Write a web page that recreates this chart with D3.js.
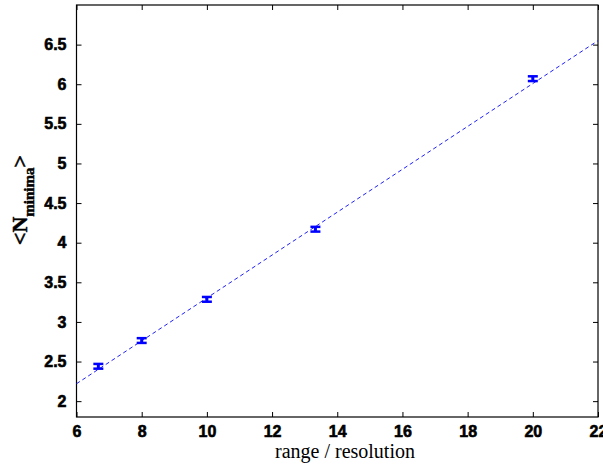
<!DOCTYPE html>
<meta charset="utf-8">
<script src="https://d3js.org/d3.v7.min.js"></script>
<style>
  body { margin: 0; background: #fff; }
</style>
<div id="my_dataviz"></div>
<script>
// measured points with error bars
var xs = [6.67, 8, 10, 13.33, 20];
var ys = [2.44, 2.765, 3.285, 4.17, 6.07];
var errs = [0.03, 0.03, 0.03, 0.03, 0.03];
// fitted line end points
var fitX = [6, 22];
var fitY = [2.22, 6.55];
var xTicks = [6, 8, 10, 12, 14, 16, 18, 20, 22];
var yTicks = [2, 2.5, 3, 3.5, 4, 4.5, 5, 5.5, 6, 6.5];

var W = 603, H = 468;
var margin = {top: 5, right: 5, bottom: 51, left: 76.5},
    width = W - margin.left - margin.right,
    height = H - margin.top - margin.bottom;

var root = d3.select("#my_dataviz")
  .append("svg")
    .attr("width", W)
    .attr("height", H);
var svg = root.append("g")
    .attr("transform", "translate(" + margin.left + "," + margin.top + ")");

var x = d3.scaleLinear().domain([6, 22]).range([0, width]);
var y = d3.scaleLinear().domain([1.8, 7]).range([height, 0]);

// axes with inward ticks
function styleAxis(g) {
  g.select(".domain").remove();
  g.selectAll(".tick line").attr("stroke", "#000");
  g.selectAll(".tick text")
    .style("font-family", "'Liberation Sans', Arial, sans-serif")
    .style("font-weight", "bold")
    .style("font-size", "16px")
    .attr("fill", "#000")
    .attr("stroke", "#000")
    .attr("stroke-width", 0.6);
}
svg.append("g")
  .attr("transform", "translate(0," + height + ")")
  .call(d3.axisBottom(x).tickValues(xTicks).tickSizeInner(-5).tickSizeOuter(0).tickPadding(9).tickFormat(d3.format("d")))
  .call(styleAxis);
svg.append("g")
  .call(d3.axisTop(x).tickValues(xTicks).tickSizeInner(-5).tickSizeOuter(0).tickFormat(""))
  .call(styleAxis);
svg.append("g")
  .call(d3.axisLeft(y).tickValues(yTicks).tickSizeInner(-5).tickSizeOuter(0).tickPadding(10).tickFormat(function(d) { return d3.format("")(d); }))
  .call(styleAxis);
svg.append("g")
  .attr("transform", "translate(" + width + ",0)")
  .call(d3.axisRight(y).tickValues(yTicks).tickSizeInner(-5).tickSizeOuter(0).tickFormat(""))
  .call(styleAxis);

svg.append("rect")
  .attr("width", width).attr("height", height)
  .attr("fill", "none").attr("stroke", "#000").attr("stroke-width", 1.2);

// fitted dashed line
svg.append("line")
  .attr("x1", x(fitX[0])).attr("y1", y(fitY[0]))
  .attr("x2", x(fitX[1])).attr("y2", y(fitY[1]))
  .attr("stroke", "#2020ff").attr("stroke-width", 1)
  .attr("stroke-dasharray", "4,3");

// error bars
var data = xs.map(function(v, i) { return {x: v, y: ys[i], e: errs[i]}; });
var eb = svg.selectAll(".eb").data(data).enter().append("g").attr("class", "eb");
eb.append("line")
  .attr("x1", function(d) { return x(d.x); }).attr("x2", function(d) { return x(d.x); })
  .attr("y1", function(d) { return y(d.y - d.e); }).attr("y2", function(d) { return y(d.y + d.e); })
  .attr("stroke", "#0000ff").attr("stroke-width", 3);
[-1, 1].forEach(function(s) {
  eb.append("line")
    .attr("x1", function(d) { return x(d.x) - 5; }).attr("x2", function(d) { return x(d.x) + 5; })
    .attr("y1", function(d) { return y(d.y + s * d.e); }).attr("y2", function(d) { return y(d.y + s * d.e); })
    .attr("stroke", "#0000ff").attr("stroke-width", 2.5);
});

// axis labels
root.append("text")
  .attr("x", 345).attr("y", 458)
  .attr("text-anchor", "middle")
  .style("font-family", "'Liberation Serif', 'Times New Roman', serif")
  .style("font-size", "20px")
  .text("range / resolution");

var yl = root.append("text")
  .attr("transform", "translate(27,200) rotate(-90)")
  .attr("text-anchor", "middle")
  .style("font-family", "'Liberation Serif', 'Times New Roman', serif")
  .style("font-weight", "bold")
  .style("font-size", "22px")
  .attr("stroke", "#000")
  .attr("stroke-width", 0.5);
yl.append("tspan").text("<N");
yl.append("tspan").attr("dy", 7).style("font-size", "15px").text("minima");
yl.append("tspan").attr("dy", -7).text(">");
</script>
